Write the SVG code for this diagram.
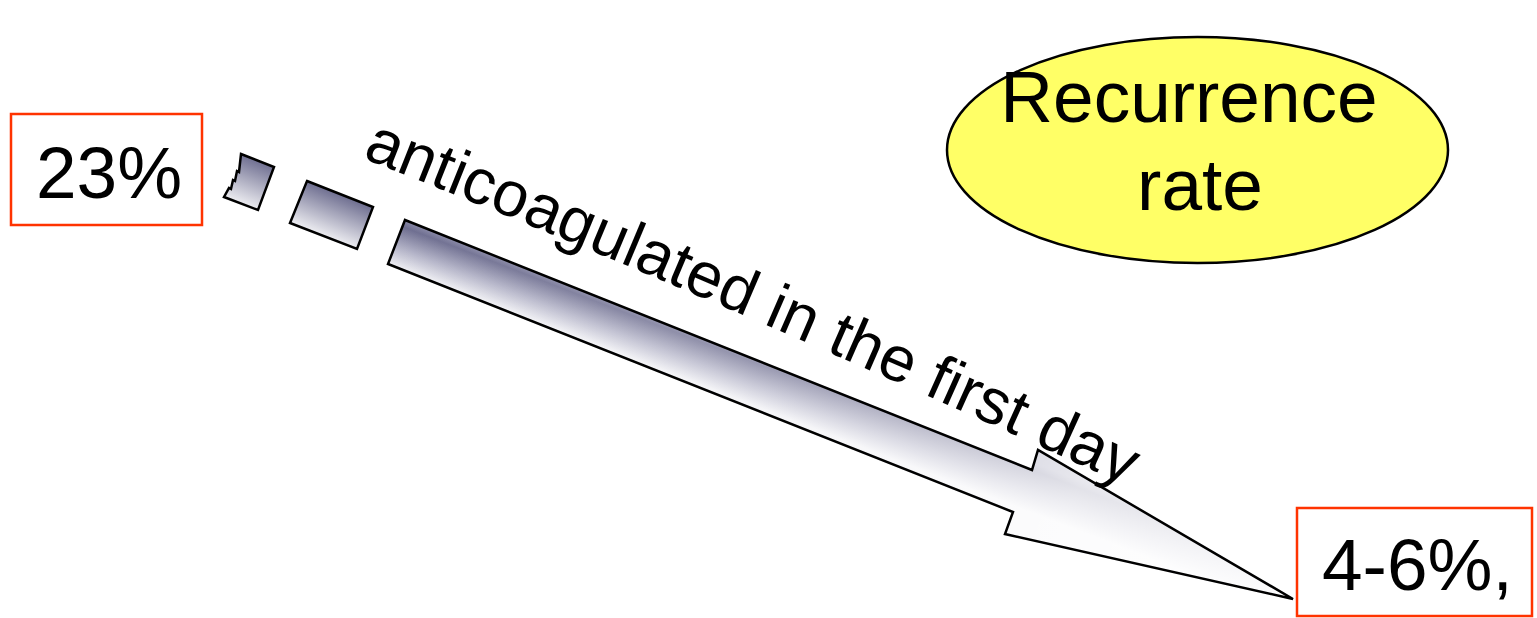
<svg xmlns="http://www.w3.org/2000/svg" width="1537" height="618" viewBox="0 0 1537 618">
<style>
.box{fill:#fff;stroke:#ff3300;stroke-width:2.5}
.lbl{font-family:"Liberation Sans",Arial,sans-serif;font-size:73px;fill:#000}
.arr{stroke:#000;stroke-width:2.5;stroke-linejoin:miter}
</style>
<defs>
<linearGradient id="gBody" gradientUnits="userSpaceOnUse" x1="405" y1="220" x2="388" y2="264">
<stop offset="0" stop-color="#8a8aa8"/>
<stop offset="0.15" stop-color="#6e6e90"/>
<stop offset="0.6" stop-color="#b4b4c8"/>
<stop offset="1" stop-color="#f0f0f4"/>
</linearGradient>
<linearGradient id="gFade" gradientUnits="userSpaceOnUse" x1="396" y1="242" x2="1293" y2="599">
<stop offset="0" stop-color="#ffffff" stop-opacity="0"/>
<stop offset="0.4" stop-color="#ffffff" stop-opacity="0.3"/>
<stop offset="0.75" stop-color="#ffffff" stop-opacity="0.8"/>
<stop offset="1" stop-color="#ffffff" stop-opacity="0.95"/>
</linearGradient>
<linearGradient id="gP1" gradientUnits="userSpaceOnUse" x1="258" y1="160" x2="241" y2="204">
<stop offset="0" stop-color="#6e6e90"/>
<stop offset="1" stop-color="#eeeef2"/>
</linearGradient>
<linearGradient id="gP2" gradientUnits="userSpaceOnUse" x1="340" y1="194" x2="323" y2="236">
<stop offset="0" stop-color="#6e6e90"/>
<stop offset="1" stop-color="#eeeef2"/>
</linearGradient>
<path id="tp" d="M 362 158 Q 700 290 1140 492"/>
</defs>
<rect width="1537" height="618" fill="#fff"/>

<g id="connectors">
<path class="arr" fill="url(#gP1)" d="M241,154 L274,167 L258,210 L224,197 L229,188 L231,189 L233,180 L235,181 L237,171 L239,172 Z"/>
<path class="arr" fill="url(#gP2)" d="M307,181 L373,207 L357,249 L290,223 Z"/>
<path fill="url(#gBody)" d="M405,220 L1032,470 L1038,450 L1293,599 L1005,534 L1013,512 L388,264 Z"/>
<path class="arr" fill="url(#gFade)" d="M405,220 L1032,470 L1038,450 L1293,599 L1005,534 L1013,512 L388,264 Z"/>
<text class="lbl" font-size="64" style="font-size:64px"><textPath href="#tp">anticoagulated in the first day</textPath></text>
</g>

<g id="node-23">
<rect class="box" x="11" y="114" width="191" height="111"/>
<text class="lbl" x="36" y="198">23%</text>
</g>

<g id="node-recurrence">
<ellipse cx="1197.5" cy="150" rx="250.5" ry="113" fill="#ffff66" stroke="#000" stroke-width="2.5"/>
<text class="lbl" x="1189" y="122" text-anchor="middle">Recurrence</text>
<text class="lbl" x="1200" y="210" text-anchor="middle">rate</text>
</g>

<g id="node-46">
<rect class="box" x="1297" y="508" width="235" height="108"/>
<text class="lbl" x="1322" y="590">4-6%,</text>
</g>
</svg>
